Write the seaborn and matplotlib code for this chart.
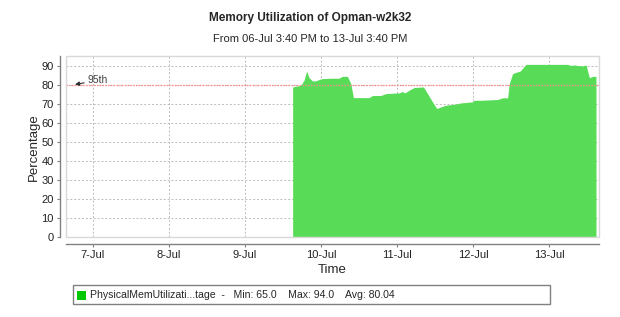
import matplotlib
matplotlib.use("Agg")
import matplotlib.pyplot as plt
import matplotlib.dates as mdates
from matplotlib.patches import Rectangle
import seaborn as sns
import pandas as pd

# ---- data ----
times = [
    "2009-07-09 15:03", "2009-07-09 17:35", "2009-07-09 18:38", "2009-07-09 19:28",
    "2009-07-09 20:13", "2009-07-09 21:16", "2009-07-09 22:19", "2009-07-09 23:22",
    "2009-07-10 00:25", "2009-07-10 03:03", "2009-07-10 05:41", "2009-07-10 06:44",
    "2009-07-10 08:19", "2009-07-10 09:22", "2009-07-10 10:13", "2009-07-10 15:10",
    "2009-07-10 16:13", "2009-07-10 18:51", "2009-07-10 20:25", "2009-07-11 00:38",
    "2009-07-11 01:41", "2009-07-11 02:25", "2009-07-11 03:47", "2009-07-11 05:22",
    "2009-07-11 08:19", "2009-07-11 09:35", "2009-07-11 11:09", "2009-07-11 12:31",
    "2009-07-11 13:47", "2009-07-11 15:22", "2009-07-11 18:00", "2009-07-11 20:06",
    "2009-07-11 23:47", "2009-07-12 00:19", "2009-07-12 02:25", "2009-07-12 07:41",
    "2009-07-12 09:16", "2009-07-12 10:51", "2009-07-12 11:22", "2009-07-12 12:25",
    "2009-07-12 13:28", "2009-07-12 14:50", "2009-07-12 16:38", "2009-07-13 05:47",
    "2009-07-13 06:50", "2009-07-13 07:53", "2009-07-13 08:57", "2009-07-13 10:32",
    "2009-07-13 11:35", "2009-07-13 12:38", "2009-07-13 13:41", "2009-07-13 14:43",
]
values = [
    79.1, 80.0, 82.6, 87.5,
    84.0, 82.3, 82.3, 83.0,
    83.5, 83.7, 83.7, 84.7,
    84.7, 81.0, 73.5, 73.5,
    74.6, 74.6, 75.6, 76.0,
    76.7, 76.0, 77.4, 78.8,
    79.1, 75.6, 71.3, 67.8,
    68.6, 69.5, 70.0, 70.7,
    71.3, 72.1, 72.1, 72.5,
    73.4, 73.4, 80.9, 86.1,
    86.8, 87.5, 91.0, 91.0,
    90.4, 90.7, 90.4, 90.2,
    90.7, 84.0, 84.7, 84.7,
]
threshold_95th = 80.0
tick_days = ["2009-07-07", "2009-07-08", "2009-07-09", "2009-07-10",
             "2009-07-11", "2009-07-12", "2009-07-13"]
range_start = "2009-07-06 15:40"
range_end = "2009-07-13 15:40"
yticks = [0, 10, 20, 30, 40, 50, 60, 70, 80, 90]
title = "Memory Utilization of Opman-w2k32"
subtitle = "From 06-Jul 3:40 PM to 13-Jul 3:40 PM"
legend_text = "PhysicalMemUtilizati...tage  -   Min: 65.0    Max: 94.0    Avg: 80.04"

df = pd.DataFrame({"time": pd.to_datetime(times), "value": values})

sns.set_style("white")
plt.rcParams["font.family"] = ["Liberation Sans", "DejaVu Sans"]

W, H = 620, 317
fig = plt.figure(figsize=(W / 100, H / 100), dpi=100)
L, R, T, B = 66.3, 599, 56, 237.3
ax = fig.add_axes([L / W, 1 - B / H, (R - L) / W, (B - T) / H])

green_fill = "#58dc58"
sns.lineplot(data=df, x="time", y="value", ax=ax, color=green_fill, lw=0)
ax.fill_between(df["time"], 0, df["value"], color=green_fill, lw=0, zorder=2)

ax.set_xlim(pd.Timestamp(range_start), pd.Timestamp(range_end))
ax.set_ylim(0, 95.4)

ax.set_yticks(yticks)
xt = pd.to_datetime(tick_days)
ax.set_xticks(xt)
ax.set_xticklabels([f"{d.day}-{d.strftime('%b')}" for d in xt])

ax.grid(True, color="#bbbbbb", linestyle=(0, (2, 2)), lw=0.7, zorder=1)
ax.set_axisbelow(True)

# 95th line
ax.axhline(threshold_95th, color="#ff8c8c", linestyle=(0, (1, 1)), lw=1, zorder=3)
ax.annotate("95th", xy=(pd.Timestamp("2009-07-06 18:25"), 80.4),
            xytext=(pd.Timestamp("2009-07-06 22:20"), 82.6),
            fontsize=7.5, color="#404040", va="center", ha="left",
            arrowprops=dict(arrowstyle="-|>", color="#303030", lw=0.8,
                            mutation_scale=6, shrinkA=0, shrinkB=0),
            zorder=4)

# frame
for s in ["top", "right"]:
    ax.spines[s].set_visible(False)
for s in ["left", "bottom"]:
    ax.spines[s].set_position(("outward", 4.5))
    ax.spines[s].set_color("#808080")
    ax.spines[s].set_linewidth(1.0)
ax.add_patch(Rectangle((0, 0), 1, 1, transform=ax.transAxes, fill=False,
                       edgecolor="#d8d8d8", lw=1, zorder=5, clip_on=False))

ax.tick_params(axis="both", which="both", length=2.5, width=0.8, color="#808080",
               labelsize=8, labelcolor="#222222", pad=2, direction="out",
               bottom=True, left=True)

ax.set_xlabel("Time", fontsize=9.5, labelpad=3)
ax.set_ylabel("Percentage", fontsize=9.5, labelpad=1)

fig.text(310 / W, 1 - 18 / H, title, ha="center", va="center",
         fontsize=8.5, fontweight="bold")
fig.text(310 / W, 1 - 39 / H, subtitle, ha="center", va="center", fontsize=8)

# legend
fig.patches.append(Rectangle((73 / W, 1 - 304 / H), (550 - 73) / W, 19 / H,
                             transform=fig.transFigure, fill=False,
                             edgecolor="#808080", lw=1))
fig.patches.append(Rectangle((77 / W, 1 - 299.5 / H), 9 / W, 9 / H,
                             transform=fig.transFigure, facecolor="#00c800",
                             edgecolor="none"))
fig.text(90 / W, 1 - 295 / H, legend_text, ha="left", va="center", fontsize=7.6)

fig.savefig("out.png", dpi=100)
